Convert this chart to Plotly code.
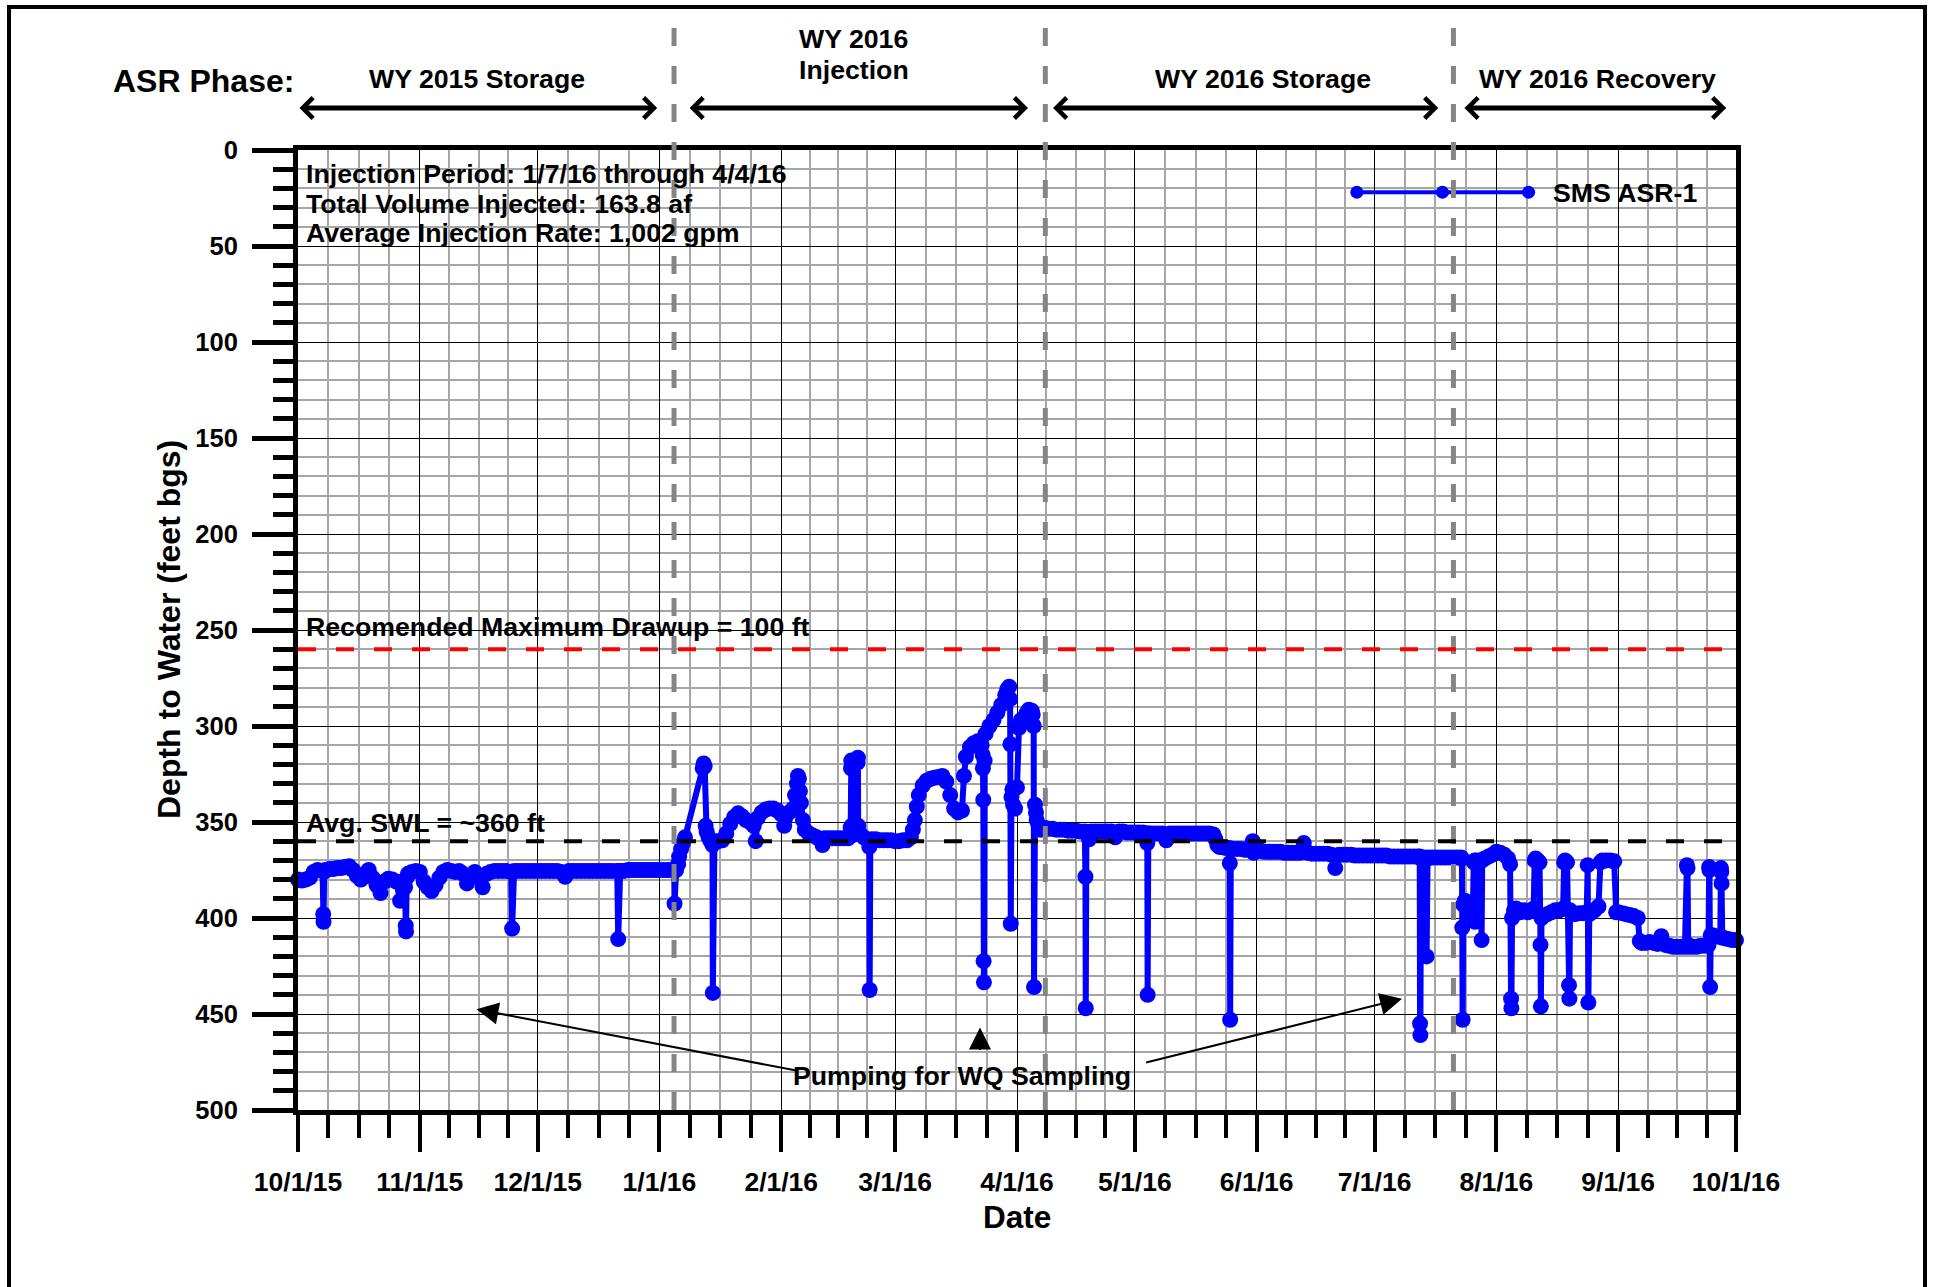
import pandas as pd
import plotly.graph_objects as go

FONT = "Liberation Sans"
BLUE = "#0000FF"

# ---------------- data ----------------
storage15_dates = [
    "2015-10-01", "2015-10-02", "2015-10-03", "2015-10-04", "2015-10-05", "2015-10-06", "2015-10-07 06:00",
    "2015-10-07 10:00", "2015-10-07 12:00", "2015-10-07 16:00", "2015-10-08", "2015-10-09", "2015-10-10", "2015-10-11",
    "2015-10-12", "2015-10-13", "2015-10-14", "2015-10-15", "2015-10-16", "2015-10-17", "2015-10-18",
    "2015-10-19", "2015-10-20", "2015-10-21", "2015-10-22", "2015-10-23", "2015-10-24", "2015-10-25",
    "2015-10-26", "2015-10-27", "2015-10-28 06:00", "2015-10-28 10:00", "2015-10-28 12:00", "2015-10-28 16:00", "2015-10-29",
    "2015-10-30", "2015-10-31", "2015-11-01", "2015-11-02", "2015-11-03", "2015-11-04", "2015-11-05",
    "2015-11-06", "2015-11-07", "2015-11-08", "2015-11-09", "2015-11-10", "2015-11-11", "2015-11-12",
    "2015-11-13", "2015-11-14", "2015-11-15", "2015-11-16", "2015-11-17", "2015-11-18", "2015-11-19",
    "2015-11-20", "2015-11-21", "2015-11-22", "2015-11-23", "2015-11-24 06:00", "2015-11-24 12:00", "2015-11-24 16:00",
    "2015-11-25", "2015-11-26", "2015-11-27", "2015-11-28", "2015-11-29", "2015-11-30", "2015-12-01",
    "2015-12-02", "2015-12-03", "2015-12-04", "2015-12-05", "2015-12-06", "2015-12-07", "2015-12-08",
    "2015-12-09", "2015-12-10", "2015-12-11", "2015-12-12", "2015-12-13", "2015-12-14", "2015-12-15",
    "2015-12-16", "2015-12-17", "2015-12-18", "2015-12-19", "2015-12-20", "2015-12-21 06:00", "2015-12-21 12:00",
    "2015-12-21 18:00", "2015-12-22", "2015-12-23", "2015-12-24", "2015-12-25", "2015-12-26", "2015-12-27",
    "2015-12-28", "2015-12-29", "2015-12-30", "2015-12-31", "2016-01-01", "2016-01-02", "2016-01-03",
    "2016-01-04", "2016-01-04 18:00", "2016-01-04 20:00", "2016-01-05 06:00",
]
storage15_depth = [
    380, 380.5, 380, 379, 376, 375, 375.5,
    398, 402, 376, 375, 374.5, 374.5, 374,
    374, 373.5, 373, 375, 378, 380, 377,
    375, 379, 383, 387, 381, 379.5, 380,
    381, 391, 384, 404, 407, 379, 377,
    376, 375.5, 376, 381, 384, 386, 383,
    379, 376, 375, 375.5, 376, 375.5, 377,
    382, 378, 376, 379, 384, 377, 376,
    375.5, 375.5, 375.5, 375.5, 376, 405.5, 376,
    375.5, 375.5, 375.5, 375.5, 375.5, 375.5, 375.5,
    375.5, 375.5, 375.5, 375.5, 375.5, 376, 378.5,
    375.5, 375.5, 375.5, 375.5, 375.5, 375.5, 375.5,
    375.5, 375.5, 375.5, 375.5, 375.5, 375.5, 411,
    375.5, 375.5, 375.5, 375, 375, 375, 375,
    375, 375, 375, 375, 375, 375, 375,
    375, 375, 392.5, 375,
]

injection_dates = [
    "2016-01-05 18:00", "2016-01-06", "2016-01-06 12:00", "2016-01-07", "2016-01-07 12:00", "2016-01-12", "2016-01-12 06:00",
    "2016-01-12 12:00", "2016-01-12 18:00", "2016-01-13", "2016-01-13 12:00", "2016-01-14", "2016-01-14 12:00", "2016-01-14 14:00",
    "2016-01-14 18:00", "2016-01-15", "2016-01-16", "2016-01-17", "2016-01-18", "2016-01-19", "2016-01-20",
    "2016-01-21", "2016-01-22", "2016-01-23", "2016-01-24", "2016-01-25", "2016-01-25 12:00", "2016-01-26",
    "2016-01-27", "2016-01-28", "2016-01-29", "2016-01-30", "2016-01-31", "2016-02-01", "2016-02-01 18:00",
    "2016-02-02", "2016-02-03", "2016-02-04", "2016-02-04 12:00", "2016-02-05", "2016-02-05 06:00", "2016-02-05 12:00",
    "2016-02-05 18:00", "2016-02-06", "2016-02-06 12:00", "2016-02-07", "2016-02-08", "2016-02-09", "2016-02-10",
    "2016-02-11", "2016-02-11 12:00", "2016-02-12", "2016-02-13", "2016-02-14", "2016-02-15", "2016-02-16",
    "2016-02-17", "2016-02-18", "2016-02-18 16:00", "2016-02-18 18:00", "2016-02-18 20:00", "2016-02-18 22:00", "2016-02-19",
    "2016-02-20", "2016-02-20 10:00", "2016-02-20 12:00", "2016-02-20 14:00", "2016-02-21", "2016-02-22", "2016-02-23",
    "2016-02-23 10:00", "2016-02-23 12:00", "2016-02-23 16:00", "2016-02-24", "2016-02-25", "2016-02-26", "2016-02-27",
    "2016-02-28", "2016-02-29", "2016-03-01", "2016-03-02", "2016-03-03", "2016-03-04", "2016-03-05",
    "2016-03-05 12:00", "2016-03-06", "2016-03-06 12:00", "2016-03-07", "2016-03-08", "2016-03-09", "2016-03-10",
    "2016-03-11", "2016-03-12", "2016-03-13", "2016-03-14", "2016-03-15", "2016-03-16", "2016-03-17",
    "2016-03-18", "2016-03-18 12:00", "2016-03-19", "2016-03-20", "2016-03-21", "2016-03-22", "2016-03-23",
    "2016-03-23 06:00", "2016-03-23 08:00", "2016-03-23 10:00", "2016-03-23 12:00", "2016-03-23 14:00", "2016-03-23 18:00", "2016-03-24",
    "2016-03-25", "2016-03-26", "2016-03-27", "2016-03-28", "2016-03-29", "2016-03-29 12:00", "2016-03-30",
    "2016-03-30 06:00", "2016-03-30 08:00", "2016-03-30 10:00", "2016-03-30 14:00", "2016-03-30 20:00", "2016-03-31", "2016-03-31 12:00",
    "2016-04-01", "2016-04-01 12:00", "2016-04-02", "2016-04-03", "2016-04-03 12:00", "2016-04-04", "2016-04-04 18:00",
    "2016-04-05", "2016-04-05 06:00", "2016-04-05 08:00", "2016-04-05 14:00", "2016-04-05 20:00", "2016-04-06", "2016-04-06 12:00",
    "2016-04-07", "2016-04-08",
]
injection_depth = [
    372, 368, 364, 361, 358, 322, 319.5,
    321, 352, 355, 358, 360, 362, 439,
    361, 360, 360, 359.5, 356, 351, 347.5,
    345.5, 347, 349, 350, 352, 360, 348,
    345, 343.5, 343, 343, 344, 346, 352,
    348, 345, 343, 336, 330, 326, 327.5,
    334, 340, 349, 354, 356, 357, 358,
    359, 362, 358.5, 358.5, 358.5, 358.5, 358.5,
    358.5, 358.5, 353, 322, 318, 352, 357,
    356, 319, 316.5, 352, 356, 358, 359.5,
    363, 437.5, 360, 359, 359, 359.5, 359.5,
    359.5, 359.5, 360, 360, 359.5, 359.5, 358,
    354, 349, 342, 336, 331, 328.5, 327.5,
    327, 326.5, 326, 329, 336, 343, 345,
    344, 326, 316, 311, 309, 308, 310,
    315, 322, 338.5, 422.5, 433.5, 318, 304,
    300, 297, 293, 289, 284, 281, 279.5,
    286, 309.5, 403, 337, 333, 341, 343,
    332, 301, 297, 295, 293, 291.5, 292,
    294, 300, 436, 341, 345, 349, 352,
    354, 353,
]

storage16_dates = [
    "2016-04-09", "2016-04-10", "2016-04-11", "2016-04-12", "2016-04-13", "2016-04-14", "2016-04-15",
    "2016-04-16", "2016-04-17", "2016-04-18 06:00", "2016-04-18 10:00", "2016-04-18 12:00", "2016-04-18 16:00", "2016-04-19",
    "2016-04-19 08:00", "2016-04-20", "2016-04-21", "2016-04-22", "2016-04-23", "2016-04-24", "2016-04-25",
    "2016-04-26", "2016-04-27", "2016-04-28", "2016-04-29", "2016-04-30", "2016-05-01", "2016-05-02",
    "2016-05-03", "2016-05-04", "2016-05-04 04:00", "2016-05-04 06:00", "2016-05-04 10:00", "2016-05-05", "2016-05-06",
    "2016-05-07", "2016-05-08", "2016-05-09", "2016-05-10", "2016-05-11", "2016-05-12", "2016-05-13",
    "2016-05-14", "2016-05-15", "2016-05-16", "2016-05-17", "2016-05-18", "2016-05-19", "2016-05-20",
    "2016-05-21", "2016-05-21 12:00", "2016-05-22", "2016-05-22 12:00", "2016-05-23", "2016-05-24", "2016-05-25",
    "2016-05-25 04:00", "2016-05-25 06:00", "2016-05-25 10:00", "2016-05-26", "2016-05-27", "2016-05-28", "2016-05-29",
    "2016-05-30", "2016-05-31", "2016-05-31 06:00", "2016-06-01", "2016-06-02", "2016-06-03", "2016-06-04",
    "2016-06-05", "2016-06-06", "2016-06-07", "2016-06-08", "2016-06-09", "2016-06-10", "2016-06-11",
    "2016-06-12", "2016-06-13", "2016-06-14", "2016-06-15", "2016-06-16", "2016-06-17", "2016-06-18",
    "2016-06-19", "2016-06-20", "2016-06-21", "2016-06-22", "2016-06-23", "2016-06-24", "2016-06-25",
    "2016-06-26", "2016-06-27", "2016-06-28", "2016-06-29", "2016-06-30", "2016-07-01", "2016-07-02",
    "2016-07-03", "2016-07-04", "2016-07-05", "2016-07-06", "2016-07-07", "2016-07-08", "2016-07-09",
    "2016-07-10", "2016-07-11", "2016-07-12", "2016-07-12 12:00", "2016-07-12 14:00", "2016-07-12 16:00", "2016-07-12 20:00",
    "2016-07-13", "2016-07-14", "2016-07-14 06:00", "2016-07-14 12:00", "2016-07-15", "2016-07-16", "2016-07-17",
    "2016-07-18", "2016-07-19", "2016-07-20", "2016-07-21", "2016-07-22",
]
storage16_depth = [
    353.5, 353.5, 354, 354, 354, 354.5, 354.5,
    354.5, 355, 355, 378.5, 447, 355.5, 356,
    359, 355, 355, 355, 355, 355, 355,
    358, 355, 355, 355.5, 355.5, 355.5, 355.5,
    355.5, 356, 361, 440, 356, 356, 356,
    356, 356, 359.5, 356, 356, 356, 356,
    356, 356, 356, 356, 356, 356, 356,
    356.5, 359, 362, 363, 363, 363.5, 363.5,
    371.5, 453, 364, 364, 364, 364, 364.5,
    364.5, 360, 366, 365, 365, 365.5, 365.5,
    365.5, 365.5, 365.5, 366, 366, 366, 366,
    366, 361, 366, 366.5, 366.5, 366.5, 366.5,
    366.5, 367, 374, 367, 367, 367, 367,
    367.5, 367.5, 367.5, 367.5, 367.5, 367.5, 367.5,
    367.5, 367.5, 368, 368, 368, 368, 368,
    368, 368, 368, 368, 455, 461, 369,
    368.5, 368.5, 420, 369, 368.5, 368.5, 368.5,
    368.5, 368.5, 368.5, 368.5, 368.5,
]

recovery_dates = [
    "2016-07-23", "2016-07-23 06:00", "2016-07-23 08:00", "2016-07-23 10:00", "2016-07-23 14:00", "2016-07-24", "2016-07-24 12:00",
    "2016-07-25", "2016-07-25 12:00", "2016-07-26", "2016-07-26 06:00", "2016-07-26 12:00", "2016-07-26 14:00", "2016-07-26 18:00",
    "2016-07-27", "2016-07-28", "2016-07-28 06:00", "2016-07-28 10:00", "2016-07-29", "2016-07-30", "2016-07-31",
    "2016-08-01", "2016-08-02", "2016-08-03", "2016-08-04", "2016-08-04 12:00", "2016-08-04 18:00", "2016-08-04 20:00",
    "2016-08-05", "2016-08-05 12:00", "2016-08-06", "2016-08-07", "2016-08-08", "2016-08-09", "2016-08-10",
    "2016-08-10 12:00", "2016-08-10 18:00", "2016-08-11", "2016-08-11 12:00", "2016-08-12", "2016-08-12 06:00", "2016-08-12 08:00",
    "2016-08-12 12:00", "2016-08-13", "2016-08-14", "2016-08-15", "2016-08-16", "2016-08-17", "2016-08-18",
    "2016-08-18 06:00", "2016-08-18 12:00", "2016-08-19", "2016-08-19 12:00", "2016-08-19 14:00", "2016-08-19 18:00", "2016-08-20",
    "2016-08-21", "2016-08-22", "2016-08-23", "2016-08-24", "2016-08-24 06:00", "2016-08-24 10:00", "2016-08-24 16:00",
    "2016-08-25", "2016-08-26", "2016-08-27", "2016-08-27 12:00", "2016-08-28", "2016-08-29", "2016-08-30",
    "2016-08-31", "2016-08-31 12:00", "2016-09-01", "2016-09-02", "2016-09-03", "2016-09-04", "2016-09-05",
    "2016-09-06", "2016-09-06 12:00", "2016-09-07", "2016-09-08", "2016-09-09", "2016-09-10", "2016-09-11",
    "2016-09-12", "2016-09-13", "2016-09-14", "2016-09-15", "2016-09-16", "2016-09-17", "2016-09-18",
    "2016-09-18 12:00", "2016-09-18 16:00", "2016-09-18 20:00", "2016-09-19", "2016-09-20", "2016-09-21", "2016-09-22",
    "2016-09-23", "2016-09-24", "2016-09-24 04:00", "2016-09-24 06:00", "2016-09-24 10:00", "2016-09-24 14:00", "2016-09-25",
    "2016-09-26", "2016-09-27", "2016-09-27 04:00", "2016-09-27 06:00", "2016-09-27 08:00", "2016-09-27 12:00", "2016-09-28",
    "2016-09-29", "2016-09-30", "2016-10-01",
]
recovery_depth = [
    368.5, 369, 405, 453, 393, 391, 394,
    395, 396, 399, 371, 370, 402, 371,
    370, 370, 411.5, 370, 369, 368, 367,
    365.5, 366, 367, 369, 372, 442, 447,
    400, 396, 395, 397, 396, 397, 396,
    395, 370, 369, 370, 371, 414, 446,
    400, 399, 398, 397, 396, 396, 395,
    371, 370, 371, 435, 442, 396, 397,
    398, 397.5, 397.5, 397, 372.5, 444, 398,
    397.5, 396, 394, 371, 370, 370, 370,
    370.5, 397, 397, 397.5, 398, 398.5, 399,
    400, 412, 413, 413, 412.5, 413, 413.5,
    409.5, 414, 414.5, 415, 415, 415, 415,
    372.5, 374, 414, 415, 415, 415, 414.5,
    414.5, 414, 373.5, 375, 436, 409, 409,
    409.5, 410, 374, 376, 382, 410, 410.5,
    411, 411.5, 411.5,
]

month_starts = ["2015-10-01", "2015-11-01", "2015-12-01", "2016-01-01", "2016-02-01", "2016-03-01", "2016-04-01",
                "2016-05-01", "2016-06-01", "2016-07-01", "2016-08-01", "2016-09-01", "2016-10-01"]
month_labels = ["10/1/15", "11/1/15", "12/1/15", "1/1/16", "2/1/16", "3/1/16", "4/1/16",
                "5/1/16", "6/1/16", "7/1/16", "8/1/16", "9/1/16", "10/1/16"]

phase_names = ["WY 2015 Storage", "WY 2016 Storage", "WY 2016 Recovery"]
phase_name_dates = ["2015-11-15 12:00", "2016-06-02 14:00", "2016-08-26 16:00"]
injection_label_date = "2016-02-19 12:00"
phase_arrow_start = ["2015-10-01", "2016-01-08 07:00", "2016-04-09 19:00", "2016-07-23 12:00"]
phase_arrow_end = ["2015-12-31 10:00", "2016-04-03 19:00", "2016-07-17 05:00", "2016-09-28 12:00"]
phase_dividers = ["2016-01-04 17:00", "2016-04-08 05:00", "2016-07-21 02:00"]

max_drawup_depth = 260
avg_swl_depth = 360

legend_dates = ["2016-06-26 12:00", "2016-07-18 07:00", "2016-08-09 05:00"]
legend_depth = [22, 22, 22]

# arrows for "Pumping for WQ Sampling": (head date, head depth, tail date, tail depth)
wq_head_dates = ["2015-11-15 10:00", "2016-07-08 00:00", "2016-03-22 14:00"]
wq_head_depth = [447.5, 442, 457]
wq_tail_dates = ["2016-02-04 22:00", "2016-05-03 12:00", "2016-03-22 14:00"]
wq_tail_depth = [479.5, 475.5, 469.5]

# ---------------- figure ----------------
W, H = 1934, 1287
L, R, T, B = 298, 198, 150, 177
PW, PH = W - L - R, H - T - B
TXT = 26.7


def px_x(px):
    return (px - L) / PW


def px_y(py):
    return (H - B - py) / PH


all_dates = storage15_dates + injection_dates + storage16_dates + recovery_dates
all_depth = storage15_depth + injection_depth + storage16_depth + recovery_depth

ms = pd.to_datetime(month_starts)
minor_vals = []
for a, b in zip(ms[:-1], ms[1:]):
    for k in (1, 2, 3):
        minor_vals.append((a + (b - a) * k / 4).strftime("%Y-%m-%d %H:%M"))

fig = go.Figure()
fig.add_trace(go.Scatter(
    x=all_dates, y=all_depth, mode="lines+markers",
    line=dict(color=BLUE, width=6), marker=dict(color=BLUE, size=16),
    showlegend=False, cliponaxis=False, hoverinfo="skip"))
fig.add_trace(go.Scatter(
    x=legend_dates, y=legend_depth, mode="lines+markers",
    line=dict(color=BLUE, width=4), marker=dict(color=BLUE, size=13),
    showlegend=False, hoverinfo="skip"))

bold = dict(family=FONT, color="black", weight="bold")

fig.update_xaxes(
    type="date", range=[month_starts[0], month_starts[-1]],
    tickmode="array", tickvals=month_starts, ticktext=month_labels,
    ticks="outside", ticklen=37, tickwidth=4, tickcolor="black",
    tickfont=dict(size=26.5, **bold), ticklabelstandoff=7,
    showgrid=True, gridcolor="black", gridwidth=1,
    showline=True, linecolor="black", linewidth=5, mirror=True, zeroline=False,
    minor=dict(tickmode="array", tickvals=minor_vals, ticks="outside", ticklen=23, tickwidth=4,
               tickcolor="black", showgrid=True, gridcolor="#a6a6a6", gridwidth=1.5),
)
fig.update_yaxes(
    range=[500, 0], tickmode="linear", tick0=0, dtick=50,
    ticks="outside", ticklen=41, tickwidth=5, tickcolor="black",
    tickfont=dict(size=25.5, **bold), ticklabelstandoff=9,
    showgrid=True, gridcolor="black", gridwidth=1,
    showline=True, linecolor="black", linewidth=5, mirror=True, zeroline=False,
    minor=dict(tickmode="linear", tick0=0, dtick=10, ticks="outside", ticklen=20, tickwidth=5,
               tickcolor="black", showgrid=True, gridcolor="#a6a6a6", gridwidth=1.5),
)

shapes = []
# outer frame (open at the bottom)
shapes.append(dict(type="path", xref="paper", yref="paper",
                   path=f"M {px_x(9)},{px_y(1300)} L {px_x(9)},{px_y(7)} L {px_x(1925)},{px_y(7)} L {px_x(1925)},{px_y(1300)}",
                   line=dict(color="black", width=4)))
for d in phase_dividers:
    shapes.append(dict(type="line", xref="x", yref="paper", x0=d, x1=d, y0=0, y1=px_y(15),
                       line=dict(color="#858585", width=5, dash="18px,20px")))
shapes.append(dict(type="line", xref="x", yref="y", x0=month_starts[0], x1=month_starts[-1],
                   y0=max_drawup_depth, y1=max_drawup_depth, line=dict(color="#FF0000", width=4, dash="18px,20px")))
shapes.append(dict(type="line", xref="x", yref="y", x0=month_starts[0], x1=month_starts[-1],
                   y0=avg_swl_depth, y1=avg_swl_depth, line=dict(color="black", width=4, dash="18px,20px")))


def label(text, x, y, xref="paper", yref="paper", size=TXT, xanchor="center", **kw):
    return dict(text=text, xref=xref, yref=yref, x=x, y=y, xanchor=xanchor, yanchor="middle",
                showarrow=False, font=dict(size=size, **bold), **kw)


ann = []
ann.append(label("ASR Phase:", px_x(203), px_y(81), size=32))
for name, d in zip(phase_names, phase_name_dates):
    ann.append(label(name, d, px_y(79), xref="x"))
ann.append(label("WY 2016", injection_label_date, px_y(39), xref="x"))
ann.append(label("Injection", injection_label_date, px_y(70), xref="x"))
for s, e in zip(phase_arrow_start, phase_arrow_end):
    ann.append(dict(text="", xref="x", yref="paper", x=e, y=px_y(108), axref="x", ax=s, ayref="pixel", ay=0,
                    showarrow=True, arrowside="end+start", arrowhead=4, startarrowhead=4,
                    arrowsize=0.8, startarrowsize=0.8, arrowwidth=5, arrowcolor="black",
                    standoff=0, startstandoff=0))

info_lines = ["Injection Period: 1/7/16 through 4/4/16", "Total Volume Injected: 163.8 af",
              "Average Injection Rate: 1,002 gpm"]
for txt, py in zip(info_lines, [174, 203.5, 233]):
    ann.append(label(txt, px_x(304), px_y(py), xanchor="left"))
ann.append(label("Recomended Maximum Drawup = 100 ft", px_x(304), px_y(627), xanchor="left"))
ann.append(label("Avg. SWL = ~360 ft", px_x(304), px_y(823), xanchor="left"))
ann.append(label("SMS ASR-1", px_x(1551), px_y(193), xanchor="left"))
ann.append(label("Pumping for WQ Sampling", px_x(962), px_y(1076)))
for hx, hy, tx, ty in zip(wq_head_dates, wq_head_depth, wq_tail_dates, wq_tail_depth):
    ann.append(dict(text="", xref="x", yref="y", x=hx, y=hy, axref="x", ax=tx, ayref="y", ay=ty,
                    showarrow=True, arrowhead=2, arrowsize=2.2, arrowwidth=2, arrowcolor="black", standoff=0))
ann.append(label("Depth to Water (feet bgs)", px_x(169), 0.5, size=32, textangle=-90))
ann.append(label("Date", 0.5, px_y(1217), size=31.5))

fig.update_layout(
    width=W, height=H, margin=dict(l=L, r=R, t=T, b=B, autoexpand=False),
    paper_bgcolor="white", plot_bgcolor="white",
    shapes=shapes, annotations=ann, showlegend=False,
    font=dict(family=FONT, color="black"),
)

fig.write_html("out.html", config={"displayModeBar": False},
               post_script="document.body.style.margin='0';document.body.style.overflow='hidden';")
